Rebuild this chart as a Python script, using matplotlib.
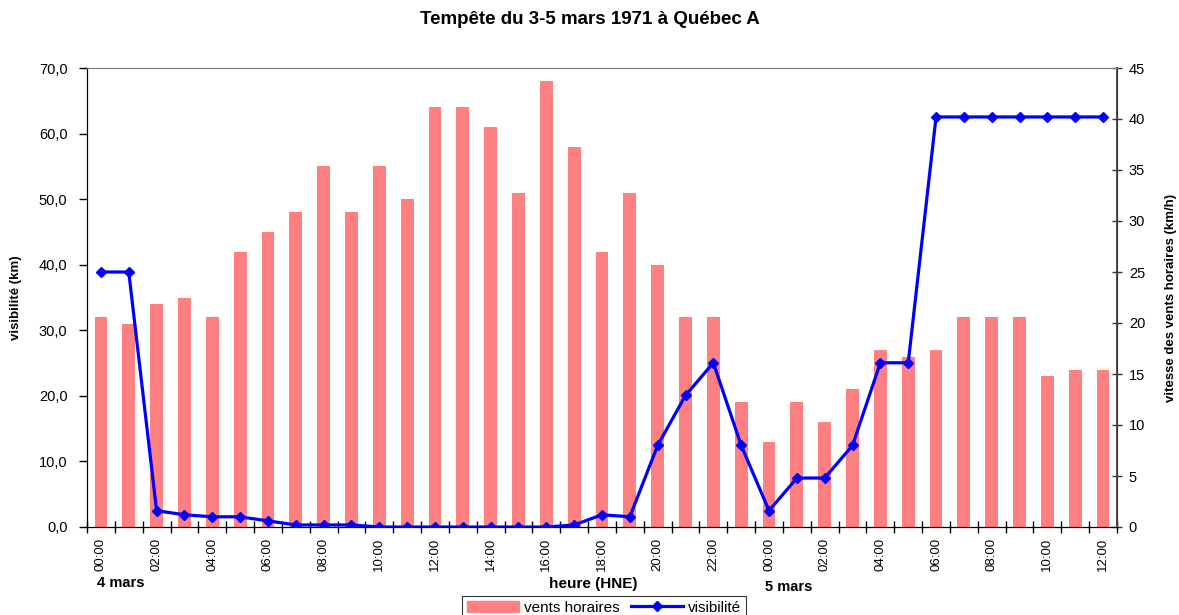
import matplotlib.pyplot as plt
import numpy as np
from matplotlib.lines import Line2D
from matplotlib.patches import Patch

plt.rcParams['font.family'] = ['Liberation Sans', 'DejaVu Sans']

# heures (HNE), du 4 mars 00:00 au 5 mars 12:00
heures = ['%02d:00' % (h % 24) for h in range(37)]

# vents horaires (axe de gauche dans l'original)
vents = [32, 31, 34, 35, 32, 42, 45, 48, 55, 48, 55, 50, 64, 64, 61, 51, 68, 58,
         42, 51, 40, 32, 32, 19, 13, 19, 16, 21, 27, 26, 27, 32, 32, 32, 23, 24, 24]

# visibilité (tracée sur l'axe de droite)
visibilite = [25.0, 25.0, 1.6, 1.2, 1.0, 1.0, 0.6, 0.2, 0.2, 0.2, 0.0, 0.0, 0.0,
              0.0, 0.0, 0.0, 0.0, 0.2, 1.2, 1.0, 8.0, 12.9, 16.1, 8.0, 1.6, 4.8,
              4.8, 8.0, 16.1, 16.1, 40.2, 40.2, 40.2, 40.2, 40.2, 40.2, 40.2]

bar_color = '#FF8080'
line_color = '#0000FF'

fig = plt.figure(figsize=(11.79, 6.15), dpi=100)
ax = fig.add_axes([87 / 1179, 1 - 527 / 615, 1030 / 1179, 459 / 615])
ax2 = ax.twinx()

x = np.arange(len(heures))
ax.bar(x, vents, width=0.46, color=bar_color, zorder=2)
ax2.plot(x, visibilite, color=line_color, lw=2.3, marker='D', ms=5, zorder=3)

ax.set_xlim(-0.5, len(heures) - 0.5)
ax.set_ylim(0, 70)
ax2.set_ylim(0, 45)

ax.set_yticks(np.arange(0, 71, 10))
ax.set_yticklabels([('%.1f' % v).replace('.', ',') for v in np.arange(0, 71, 10)])
ax2.set_yticks(np.arange(0, 46, 5))

ax.set_xticks(x)
ax.set_xticklabels([h if i % 2 == 0 else '' for i, h in enumerate(heures)],
                   rotation=90, fontsize=9.5)
ax.set_xticks(np.arange(-0.5, len(heures), 1), minor=True)
ax.tick_params(axis='x', which='major', length=0, pad=8)
ax.tick_params(axis='x', which='minor', length=8, direction='inout', width=1)
ax.tick_params(axis='y', length=6, direction='out', labelsize=10.5, width=1, pad=8)
ax2.tick_params(axis='y', length=7, direction='inout', labelsize=10.5, width=1,
                colors='#333333', labelcolor='black', pad=5)

for s in ['left', 'bottom']:
    ax.spines[s].set_color('black')
ax.spines['top'].set_color('#808080')
ax2.spines['top'].set_color('#808080')
ax2.spines['right'].set_color('#404040')
ax2.spines['right'].set_linewidth(1.3)

ax.set_ylabel('visibilité (km)', fontsize=9.5, fontweight='bold', labelpad=12)
ax2.set_ylabel('vitesse des vents horaires (km/h)', fontsize=9.5, fontweight='bold',
               labelpad=14)

fig.text(0.5, 1 - 19 / 615, 'Tempête du 3-5 mars 1971 à Québec A', ha='center',
         va='center', fontsize=13.5, fontweight='bold')
fig.text(593 / 1179, 1 - 584 / 615, 'heure (HNE)', ha='center', va='center',
         fontsize=11, fontweight='bold')
fig.text(97 / 1179, 1 - 583 / 615, '4 mars', ha='left', va='center',
         fontsize=10.5, fontweight='bold')
fig.text(765 / 1179, 1 - 587 / 615, '5 mars', ha='left', va='center',
         fontsize=10.5, fontweight='bold')

handles = [Patch(color=bar_color),
           Line2D([], [], color=line_color, lw=2.3, marker='D', ms=5)]
leg = fig.legend(handles, ['vents horaires', 'visibilité'], loc='upper center',
                 bbox_to_anchor=(604 / 1179, 1 - 596 / 615), ncol=2, fontsize=11,
                 frameon=True, fancybox=False, edgecolor='black', handlelength=3.4,
                 borderpad=0.3, columnspacing=0.8, handletextpad=0.3,
                 borderaxespad=0)
leg.get_frame().set_linewidth(0.8)

fig.savefig('out.png', dpi=100)
